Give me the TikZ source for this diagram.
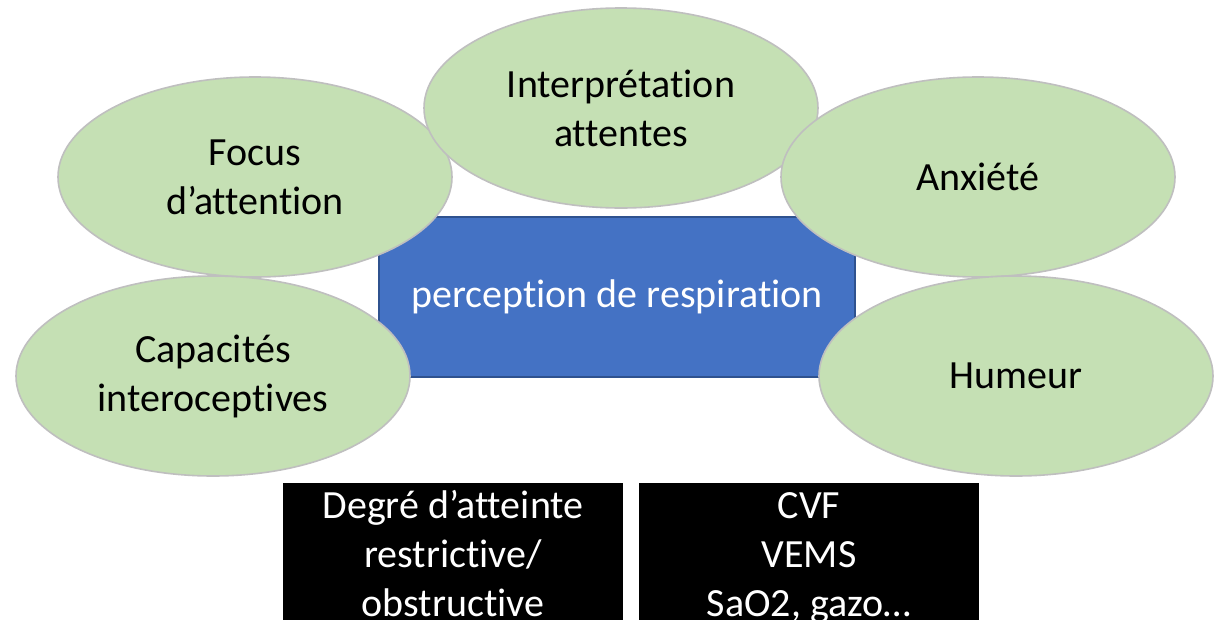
\documentclass[tikz,border=0pt]{standalone}
\usepackage{fontspec}
\setmainfont[Ligatures=NoCommon]{Carlito}
\usetikzlibrary{shapes.geometric}
\definecolor{bubblegreen}{HTML}{C5E0B4}
\definecolor{bubbleline}{HTML}{BFBFBF}
\definecolor{mainblue}{HTML}{4472C4}
\definecolor{mainblueline}{HTML}{2F528F}
\tikzset{
  bubble/.style={ellipse,fill=bubblegreen,draw=bubbleline,line width=1.6pt,
    minimum width=394pt,minimum height=200pt,inner sep=0pt,align=center,
    font=\fontsize{40pt}{49pt}\selectfont},
  centrebox/.style={rectangle,fill=mainblue,draw=mainblueline,line width=1.4pt,
    minimum width=476pt,minimum height=160pt,inner sep=0pt,text=white,
    font=\fontsize{40pt}{49pt}\selectfont},
  blackbox/.style={rectangle,fill=black,draw=none,minimum width=340pt,
    minimum height=150pt,inner sep=0pt,text=white,align=center,
    font=\fontsize{40pt}{49pt}\selectfont}
}
\begin{document}
\begin{tikzpicture}[x=1pt,y=-1pt]
\useasboundingbox [fill=white] (0, 0) rectangle (1221, 619);

\node [centrebox] (perception) at (617, 297) {perception de respiration};

\node [bubble] (focus) at (255, 177) {Focus\\d’attention};
\node [bubble] (interp) at (621, 108) {Interprétation\\attentes};
\node [bubble] (anxiete) at (978, 177) {Anxiété};
\node [bubble] (capacites) at (213, 376) {Capacités\\interoceptives};
\node [bubble] (humeur) at (1016, 376) {Humeur};

\node [blackbox] (degre) at (453, 558) {\strut Degré d’atteinte\\\strut restrictive/\\\strut obstructive};
\node [blackbox] (mesures) at (809, 558) {\strut CVF\\\strut VEMS\\\strut SaO2, gazo…};
\end{tikzpicture}
\end{document}
